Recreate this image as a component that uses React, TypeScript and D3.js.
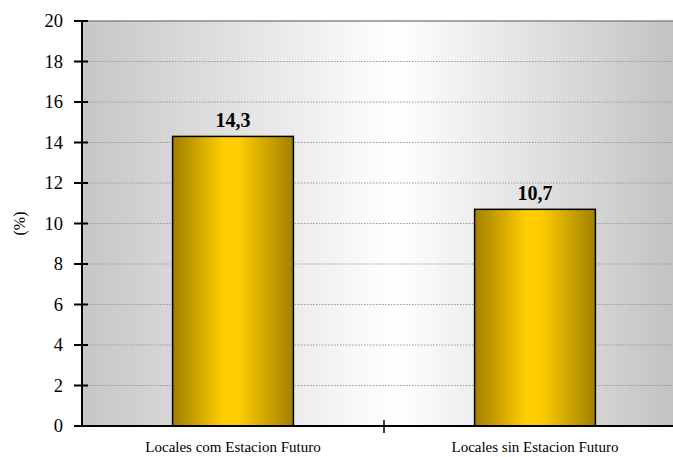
import React from "react";
import * as d3 from "d3";

const categories = ["Locales com Estacion Futuro", "Locales sin Estacion Futuro"];
const values = [14.3, 10.7];
const valueLabels = ["14,3", "10,7"];
const yTicks = [0, 2, 4, 6, 8, 10, 12, 14, 16, 18, 20];

const W = 673;
const H = 457;
const left = 82;
const right = 686;
const top = 21;
const bottom = 426;
const ts: React.CSSProperties = { fontFamily: "Liberation Serif" };

export default function App() {
  const x = d3.scaleBand<string>().domain(categories).range([left, right]).paddingInner(0).paddingOuter(0);
  const y = d3.scaleLinear().domain([0, 20]).range([bottom, top]);
  const barW = x.bandwidth() * 0.4;
  return (
    <svg width={W} height={H} style={{ position: "absolute", left: 0, top: 0 }}>
      <defs>
        <linearGradient id="bg" gradientUnits="userSpaceOnUse" x1={left} x2={right} y1={0} y2={0}>
          <stop offset="0" stopColor="#c6c6c6" />
          <stop offset="0.52" stopColor="#ffffff" />
          <stop offset="1" stopColor="#c0c0c0" />
        </linearGradient>
        <linearGradient id="bar" x1="0" x2="1" y1="0" y2="0">
          <stop offset="0" stopColor="#a08000" />
          <stop offset="0.42" stopColor="#ffcc00" />
          <stop offset="0.55" stopColor="#ffcc00" />
          <stop offset="1" stopColor="#a08000" />
        </linearGradient>
      </defs>
      <rect x={left} y={top} width={right - left} height={bottom - top} fill="url(#bg)" />
      <line x1={left} x2={right} y1={top} y2={top} stroke="#888" strokeWidth={1.5} />
      {yTicks.filter((t) => t > 0 && t < 20).map((t) => (
        <line key={"g" + t} x1={left} x2={right} y1={y(t)} y2={y(t)} stroke="#999" strokeWidth={1} strokeDasharray="1.5,1.5" />
      ))}
      {categories.map((c, i) => {
        const cx = (x(c) as number) + x.bandwidth() / 2;
        return (
          <g key={c}>
            <rect x={cx - barW / 2} y={y(values[i])} width={barW} height={bottom - y(values[i])} fill="url(#bar)" stroke="#000" strokeWidth={1.5} />
            <text style={ts} x={cx} y={y(values[i]) - 9} textAnchor="middle" fontWeight="bold" fontSize={20} fill="#000">{valueLabels[i]}</text>
            <text style={ts} x={cx} y={452} textAnchor="middle" fontSize={15} fill="#000">{c}</text>
          </g>
        );
      })}
      <line x1={left} x2={right} y1={bottom} y2={bottom} stroke="#000" strokeWidth={2} />
      <line x1={left} x2={left} y1={top} y2={bottom} stroke="#000" strokeWidth={2} />
      {yTicks.map((t) => (
        <g key={"t" + t}>
          <line x1={74} x2={88} y1={y(t)} y2={y(t)} stroke="#000" strokeWidth={2} />
          <text style={ts} x={63} y={y(t)} dy="0.35em" textAnchor="end" fontSize={18.5} fill="#000">{t}</text>
        </g>
      ))}
      {categories.slice(1).map((c) => (
        <line key={"xt" + c} x1={x(c) as number} x2={x(c) as number} y1={bottom - 6} y2={bottom + 7} stroke="#000" strokeWidth={1.5} />
      ))}
      <text style={ts} transform={`translate(25,${(top + bottom) / 2}) rotate(-90)`} textAnchor="middle" fontSize={16} fill="#000">(%)</text>
    </svg>
  );
}
